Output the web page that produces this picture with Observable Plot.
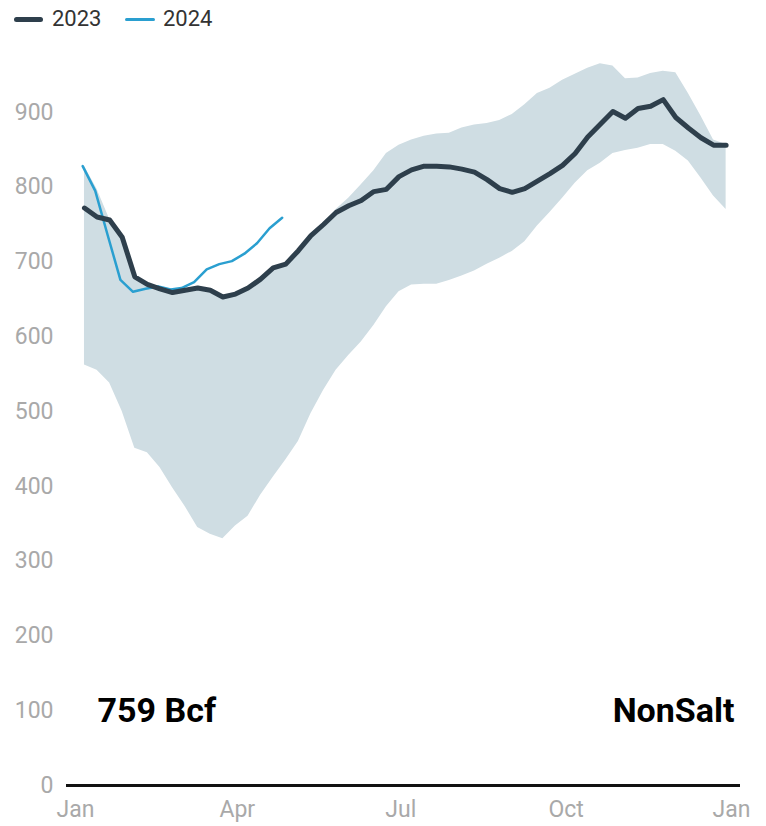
<!DOCTYPE html>
<html>
<head>
<meta charset="utf-8">
<script src="https://cdn.jsdelivr.net/npm/d3@7"></script>
<script src="https://cdn.jsdelivr.net/npm/@observablehq/plot@0.6"></script>
<style>
  body { margin: 0; background: #fff; font-family: Roboto, "Noto Sans", sans-serif; }
  #legend { position: relative; height: 36px; width: 766px; }
  .sw { position: absolute; border-radius: 3px; }
  .lt { position: absolute; top: 5px; font-size: 22px; line-height: 28px; color: #333; }
</style>
</head>
<body>
<div id="legend">
  <div class="sw" style="left:14px;top:17px;width:29px;height:5px;background:#2e3f4c;"></div>
  <div class="lt" style="left:52px;">2023</div>
  <div class="sw" style="left:125px;top:18px;width:30px;height:3px;background:#2a9fd0;"></div>
  <div class="lt" style="left:163px;">2024</div>
</div>
<div id="chart"></div>
<script>
// Week-ending dates (month-day), plotted on a common 2023 calendar
const weeks2023 = ["01-06","01-13","01-20","01-27","02-03","02-10","02-17","02-24","03-03","03-10","03-17","03-24","03-31","04-07","04-14","04-21","04-28","05-05","05-12","05-19","05-26","06-02","06-09","06-16","06-23","06-30","07-07","07-14","07-21","07-28","08-04","08-11","08-18","08-25","09-01","09-08","09-15","09-22","09-29","10-06","10-13","10-20","10-27","11-03","11-10","11-17","11-24","12-01","12-08","12-15","12-22","12-29"];
const weeks2024 = ["01-05","01-12","01-19","01-26","02-02","02-09","02-16","02-23","03-01","03-08","03-15","03-22","03-29","04-05","04-12","04-19","04-26"];

// Storage, Bcf
const values2023 = [772,760,756,733,680,670,664,659,662,665,662,653,657,665,677,692,697,715,735,750,766,775,782,794,797,814,823,828,828,827,824,820,810,798,793,798,808,818,829,845,867,884,901,892,905,908,917,893,879,866,856,856];
const values2024 = [828,795,735,676,660,664,667,663,665,673,690,697,701,711,725,745,759];

// Five-year range band
const bandHigh = [828,797,757,733,680,670,664,659,662,665,662,653,657,665,677,692,697,715,735,750,770,785,803,822,845,856,863,868,871,872,879,883,885,889,897,910,925,932,943,951,959,965,962,945,946,952,955,953,925,895,863,857];
const bandLow  = [562,555,538,500,451,445,425,398,373,345,336,330,347,360,388,412,435,460,497,528,555,575,593,615,640,660,669,670,670,675,681,688,697,705,714,727,748,766,785,805,822,832,845,849,852,857,857,848,835,812,788,770];

const yTicks = [0,100,200,300,400,500,600,700,800,900];
const xTicks = ["2023-01-01","2023-04-01","2023-07-01","2023-10-01","2024-01-01"];

const toDate = md => new Date("2023-" + md + "T00:00:00Z");

const band = weeks2023.map((w, i) => ({date: toDate(w), low: bandLow[i], high: bandHigh[i]}));
const s2023 = weeks2023.map((w, i) => ({date: toDate(w), value: values2023[i]}));
const s2024 = weeks2024.map((w, i) => ({date: toDate(w), value: values2024[i]}));

const chart = Plot.plot({
  width: 766,
  height: 790,
  marginLeft: 66,
  marginRight: 26,
  marginTop: 1,
  marginBottom: 41,
  style: {fontFamily: "Roboto, 'Noto Sans', sans-serif", fontSize: "23px", color: "#a9a9a9", background: "white", overflow: "visible"},
  x: {
    type: "utc",
    domain: [new Date("2022-12-27T00:00:00Z"), new Date("2024-01-06T00:00:00Z")],
    ticks: xTicks.map(d => new Date(d + "T00:00:00Z")),
    tickFormat: d3.utcFormat("%b"),
    tickSize: 0,
    tickPadding: 15,
    label: null
  },
  y: {
    domain: [0, 1000],
    ticks: yTicks,
    tickSize: 0,
    tickPadding: 13,
    label: null
  },
  marks: [
    Plot.areaY(band, {x: "date", y1: "low", y2: "high", fill: "#cfdde3"}),
    Plot.ruleY([0], {stroke: "#111", strokeWidth: 3}),
    Plot.line(s2024, {x: "date", y: "value", stroke: "#2a9fd0", strokeWidth: 2.5, strokeLinejoin: "round", strokeLinecap: "round"}),
    Plot.line(s2023, {x: "date", y: "value", stroke: "#2e3f4c", strokeWidth: 5, strokeLinejoin: "round", strokeLinecap: "round"}),
    Plot.text(["759 Bcf"], {frameAnchor: "bottom-left", dx: 31, dy: -74, lineAnchor: "middle", textAnchor: "start", fontSize: 34, fontWeight: "bold", fill: "#000"}),
    Plot.text(["NonSalt"], {frameAnchor: "bottom-right", dx: -6, dy: -74, lineAnchor: "middle", textAnchor: "end", fontSize: 34, fontWeight: "bold", fill: "#000"})
  ]
});
document.getElementById("chart").appendChild(chart);
</script>
</body>
</html>
